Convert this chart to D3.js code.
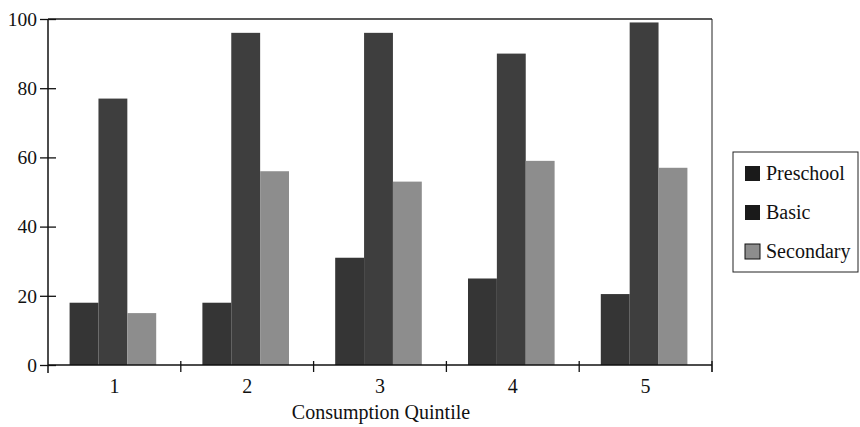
<!DOCTYPE html>
<html>
<head>
<meta charset="utf-8">
<script src="https://cdn.jsdelivr.net/npm/d3@7"></script>
<style>
  body { margin: 0; background: #fff; }
  svg { font-family: "Liberation Serif", "DejaVu Serif", serif; }
</style>
</head>
<body>
<div id="chart"></div>
<script>
const quintiles = ["1", "2", "3", "4", "5"];
const series = ["Preschool", "Basic", "Secondary"];
const preschool = [18, 18, 31, 25, 20.5];
const basic = [77, 96, 96, 90, 99];
const secondary = [15, 56, 53, 59, 57];
const yTicks = [0, 20, 40, 60, 80, 100];
const xTitle = "Consumption Quintile";

const CTX = {
    W: 860,
    H: 427,
    left: 48,
    right: 712,
    top: 19,
    bottom: 365,
    colors: {Preschool: "#353535", Basic: "#3e3e3e", Secondary: "#8d8d8d"}
};

const values = {Preschool: preschool, Basic: basic, Secondary: secondary};

const svg = d3.select("#chart").append("svg")
    .attr("width", CTX.W)
    .attr("height", CTX.H);

const x = d3.scaleBand()
    .domain(quintiles)
    .range([CTX.left, CTX.right])
    .padding(0);

const xs = d3.scaleBand()
    .domain(series)
    .range([0, x.bandwidth()])
    .paddingInner(0)
    .paddingOuter(0.8);

const y = d3.scaleLinear()
    .domain([0, 100])
    .range([CTX.bottom, CTX.top]);

// bars
series.forEach(function (s) {
    svg.append("g")
        .selectAll("rect")
        .data(quintiles)
        .enter()
        .append("rect")
        .attr("x", (d) => x(d) + xs(s) - 1.5)
        .attr("width", xs.bandwidth())
        .attr("y", (d, i) => y(values[s][i]))
        .attr("height", (d, i) => y(0) - y(values[s][i]))
        .attr("fill", CTX.colors[s]);
});

// frame top and right
svg.append("line")
    .attr("x1", CTX.left).attr("x2", CTX.right)
    .attr("y1", CTX.top).attr("y2", CTX.top)
    .attr("stroke", "#222").attr("stroke-width", 1.3);
svg.append("line")
    .attr("x1", CTX.right).attr("x2", CTX.right)
    .attr("y1", CTX.top).attr("y2", CTX.bottom + 7)
    .attr("stroke", "#222").attr("stroke-width", 1);

// y axis
const yAxis = svg.append("g")
    .attr("transform", `translate(${CTX.left},0)`)
    .call(d3.axisLeft(y).tickValues(yTicks).tickSize(8).tickFormat(d3.format("d")));
yAxis.select(".domain").remove();
yAxis.selectAll(".tick line").attr("x1", 8).attr("x2", -8).attr("stroke", "#111").attr("stroke-width", 1.3);
yAxis.selectAll(".tick text").attr("x", -11).style("font-size", "19.5px").style("font-family", "Liberation Serif").attr("fill", "#111");
svg.append("line")
    .attr("x1", CTX.left).attr("x2", CTX.left)
    .attr("y1", CTX.top).attr("y2", CTX.bottom + 8)
    .attr("stroke", "#111").attr("stroke-width", 1.5);

// x axis
svg.append("line")
    .attr("x1", CTX.left).attr("x2", CTX.right)
    .attr("y1", CTX.bottom).attr("y2", CTX.bottom)
    .attr("stroke", "#111").attr("stroke-width", 1.5);
const bounds = quintiles.map((d) => x(d)).concat([CTX.right]);
svg.append("g")
    .selectAll("line")
    .data(bounds.slice(1))
    .enter()
    .append("line")
    .attr("x1", (d) => d).attr("x2", (d) => d)
    .attr("y1", CTX.bottom - 4).attr("y2", CTX.bottom + 7)
    .attr("stroke", "#111").attr("stroke-width", 1.3);

const xAxis = svg.append("g")
    .attr("transform", `translate(0,${CTX.bottom})`)
    .call(d3.axisBottom(x).tickSize(0).tickPadding(14));
xAxis.select(".domain").remove();
xAxis.selectAll(".tick text").style("font-size", "20px").style("font-family", "Liberation Serif").attr("fill", "#111");

svg.append("text")
    .attr("x", 381)
    .attr("y", 419)
    .attr("text-anchor", "middle")
    .style("font-size", "20px")
    .attr("fill", "#111")
    .text(xTitle);

// legend
const glegend = svg.append("g")
    .attr("transform", "translate(733,152)");
glegend.append("rect")
    .attr("width", 125)
    .attr("height", 120)
    .attr("fill", "none")
    .attr("stroke", "#222")
    .attr("stroke-width", 1);
series.forEach(function (s, i) {
    glegend.append("rect")
        .attr("x", 12)
        .attr("y", 14 + i * 39)
        .attr("width", 15)
        .attr("height", 15)
        .attr("fill", i == 2 ? CTX.colors[s] : "#1a1a1a")
        .attr("stroke", "#111")
        .attr("stroke-width", i == 2 ? 1 : 0);
    glegend.append("text")
        .attr("x", 33)
        .attr("y", 28 + i * 39)
        .style("font-size", "20px")
        .attr("fill", "#111")
        .text(s);
});
</script>
</body>
</html>
